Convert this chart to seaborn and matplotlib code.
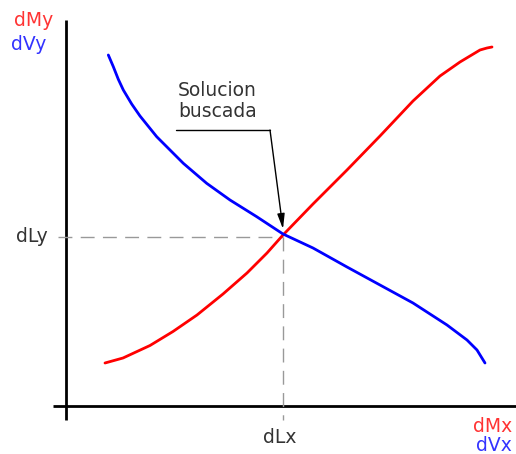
import pandas as pd
import matplotlib
matplotlib.use("Agg")
import matplotlib.pyplot as plt
import seaborn as sns

# curvas (unidades arbitrarias)
red_x = [0.975, 1.425, 2.1, 2.675, 3.275, 3.925, 4.525, 5.025, 5.425, 6.175,
         7.025, 7.85, 8.675, 9.35, 9.85, 10.35, 10.525, 10.65]
red_y = [1.075, 1.2, 1.5125, 1.8625, 2.275, 2.8, 3.325, 3.825, 4.275, 5.05,
         5.9, 6.75, 7.625, 8.25, 8.6, 8.9, 8.95, 8.975]
blue_x = [1.058, 1.183, 1.308, 1.433, 1.642, 1.85, 2.267, 2.933, 3.517, 4.1,
          4.767, 5.425, 6.175, 7.025, 7.85, 8.675, 9.525, 10.025, 10.275, 10.475]
blue_y = [8.775, 8.483, 8.167, 7.9, 7.55, 7.25, 6.733, 6.067, 5.567, 5.15,
          4.733, 4.3, 3.95, 3.475, 3.025, 2.575, 2.025, 1.65, 1.4, 1.075]

# punto solucion
sol_x = 5.425
sol_y = 4.225

sns.set_style("white")
plt.rcParams['font.family'] = ['DejaVu Sans']

df = pd.concat([
    pd.DataFrame({"x": red_x, "y": red_y, "curva": "M"}),
    pd.DataFrame({"x": blue_x, "y": blue_y, "curva": "V"}),
])

fig = plt.figure(figsize=(5.16, 4.54), dpi=100)
ax = fig.add_axes([0, 0, 1, 1])
ax.set_xlim(-1.65, 11.25)
ax.set_ylim(-1.2, 10.15)
ax.axis("off")

# ejes
ax.plot([0, 0], [-0.35, 9.65], color="black", lw=2, solid_capstyle="butt")
ax.plot([-0.325, 11.25], [0, 0], color="black", lw=2, solid_capstyle="butt")

# lineas guia
ax.plot([-0.2, sol_x], [sol_y, sol_y], color="#999999", lw=1, dashes=(10, 6))
ax.plot([sol_x, sol_x], [sol_y, -0.35], color="#999999", lw=1, dashes=(10, 6))

sns.lineplot(data=df, x="x", y="y", hue="curva", palette={"M": "#ff0000", "V": "#0000ff"},
             sort=False, lw=2, legend=False, ax=ax, solid_joinstyle="round")

# anotacion
ax.plot([2.75, 5.1], [6.9, 6.9], color="black", lw=1)
ax.annotate("", xy=(sol_x, sol_y + 0.2), xytext=(5.1, 6.9),
            arrowprops=dict(arrowstyle="-|>,head_length=0.9,head_width=0.22",
                            color="black", lw=1, shrinkA=0, shrinkB=0))
ax.text(2.8, 8.12, "Solucion\nbuscada", fontsize=13.5, va="top", ha="left",
        color="#333333", linespacing=1.15)

fs = 13.5
ax.text(-1.3, 9.65, "dMy", color="#ff3333", fontsize=fs, va="center", ha="left")
ax.text(-1.37, 9.05, "dVy", color="#3333ff", fontsize=fs, va="center", ha="left")
ax.text(-0.45, 4.25, "dLy", color="#333333", fontsize=fs, va="center", ha="right")
ax.text(5.35, -0.78, "dLx", color="#333333", fontsize=fs, va="center", ha="center")
ax.text(11.15, -0.52, "dMx", color="#ff3333", fontsize=fs, va="center", ha="right")
ax.text(11.15, -0.98, "dVx", color="#3333ff", fontsize=fs, va="center", ha="right")

fig.savefig("out.png", dpi=100)
